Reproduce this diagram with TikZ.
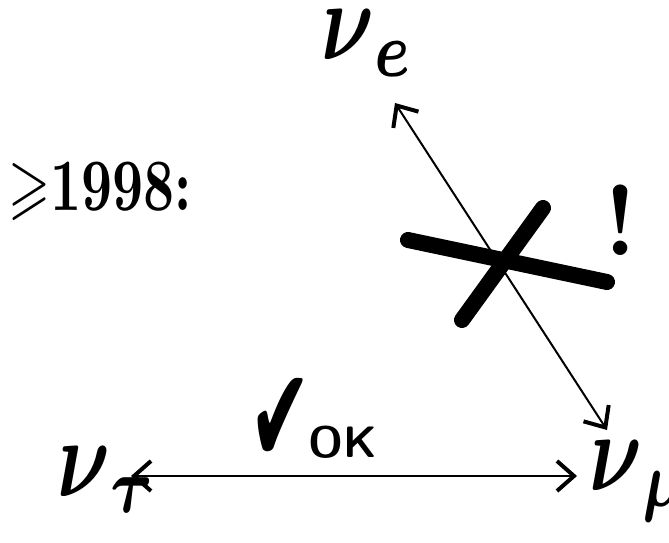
\documentclass[tikz,border=0pt]{standalone}
\usepackage{amsmath}
\usepackage{amssymb}
\usepackage{fontspec}
\newfontfamily\dejavu{DejaVu Sans}
\usetikzlibrary{arrows.meta,calc}
\begin{document}
\begin{tikzpicture}[x=1pt,y=1pt,
  nu/.style={inner sep=0pt, anchor=base west, xscale=8.2, yscale=11.2},
  txt/.style={inner sep=0pt},
  arr/.style={{Straight Barb[length=17pt,width=30pt,line width=4pt]}-{Straight Barb[length=17pt,width=30pt,line width=4pt]}, line width=2pt},
  xstroke/.style={line width=16pt, line cap=round}]
\useasboundingbox (0,0) rectangle (669,542);
% neutrino labels
\node[nu] (ve)  at (320,482) {$\boldsymbol{\nu}_{\boldsymbol{e}}$};
\node[nu] (tau) at (56,46)  {$\boldsymbol{\nu}_{\boldsymbol{\tau}}$};
\node[nu] (mu)  at (588,52) {$\boldsymbol{\nu}_{\boldsymbol{\mu}}$};
% year
\node[txt, xscale=5.4, yscale=7.4] (year) at (100,351) {$\geqslant$\textbf{1998:}};
% connectors
\draw[arr] ($(ve.base west)+(75,-43)$) -- ($(mu.base west)+(19,60)$);
\draw[arr] ($(tau.base west)+(75,20)$) -- ($(mu.base west)+(-11,14)$);
% cross-out mark
\coordinate (c1a) at (408,302);
\coordinate (c1b) at (607,260);
\coordinate (c2a) at (543,334);
\coordinate (c2b) at (462,222);
\draw[xstroke] (c1a) -- (c1b);
\draw[xstroke] (c2a) -- (c2b);
\node[txt] (excl) at (621,322) {\fontsize{100}{100}\selectfont\bfseries !};
% check and OK
\node[txt, xscale=0.55] (check) at (281,121) {\dejavu\fontsize{135}{135}\selectfont ✔};
\node[txt] (ok) at (343,100) {\fontsize{44}{44}\selectfont\sffamily\bfseries OK};
\end{tikzpicture}
\end{document}
